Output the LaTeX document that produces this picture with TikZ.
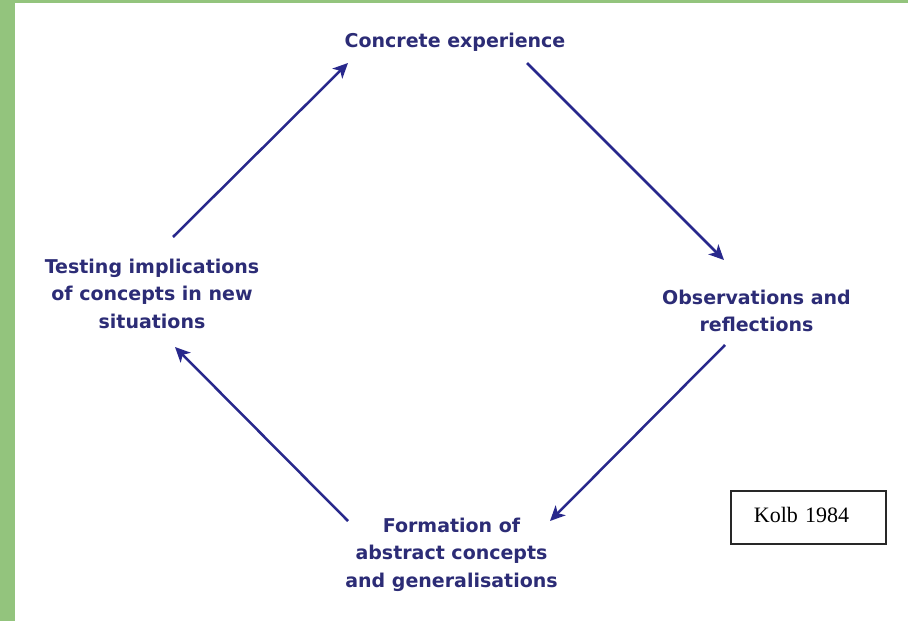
\documentclass[tikz,border=0pt]{standalone}
\usepackage{fontspec}
\usetikzlibrary{arrows.meta}
\newfontfamily\lblfont{DejaVu Sans}
\newfontfamily\kolbfont{Liberation Serif}
\definecolor{frame}{RGB}{147,196,125}
\definecolor{txtblue}{RGB}{44,44,118}
\definecolor{arrblue}{RGB}{40,40,140}
\definecolor{boxgray}{RGB}{40,40,40}
\tikzset{
  stagelabel/.style={inner sep=0pt, align=center, text=txtblue,
    font=\lblfont\bfseries\fontsize{19}{27.6}\selectfont},
  cyclearrow/.style={draw=arrblue, line width=2.5pt,
    -{Stealth[length=15pt, width=14pt, inset=4pt]}},
  kolbbox/.style={draw=boxgray, line width=1.8pt, fill=white,
    minimum width=155pt, minimum height=53pt, inner xsep=23pt,
    text width=109pt, align=left, text height=15pt, text depth=4pt,
    font=\kolbfont\fontsize{22}{26}\selectfont, text=black}
}
\begin{document}
\begin{tikzpicture}[x=1pt, y=-1pt]
\useasboundingbox (0,0) rectangle (908,621);
\fill[white] (0,0) rectangle (908,621);
\fill[frame] (0,0) rectangle (15,621);
\fill[frame] (0,0) rectangle (908,3);

\node[stagelabel, anchor=base] (ce) at (455,47) {Concrete experience};
\node[stagelabel, anchor=north] (ob) at (756.5,289.6) {Observations and\\reflections};
\node[stagelabel, anchor=north] (fa) at (451.5,517.6) {Formation of\\abstract concepts\\and generalisations};
\node[stagelabel, anchor=north] (ti) at (152,258.6) {Testing implications\\of concepts in new\\situations};

\node[kolbbox, anchor=north west] (kolb) at (730,490) {Kolb 1984};

\coordinate (a1s) at (173,237);
\coordinate (a1e) at (348,63);
\coordinate (a2s) at (527,63);
\coordinate (a2e) at (724,260);
\coordinate (a3s) at (725,345);
\coordinate (a3e) at (550,521);
\coordinate (a4s) at (348,521);
\coordinate (a4e) at (175,347);

\draw[cyclearrow] (a1s) -- (a1e);
\draw[cyclearrow] (a2s) -- (a2e);
\draw[cyclearrow] (a3s) -- (a3e);
\draw[cyclearrow] (a4s) -- (a4e);
\end{tikzpicture}
\end{document}
